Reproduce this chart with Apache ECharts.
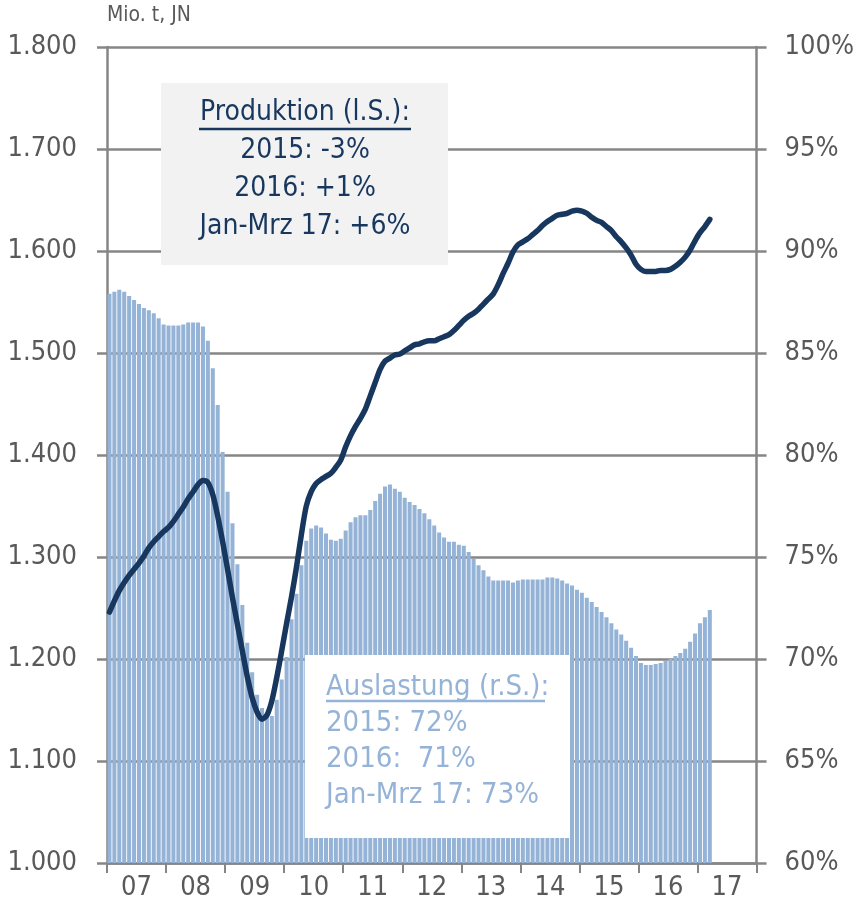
<!DOCTYPE html>
<html>
<head>
<meta charset="utf-8">
<script src="https://cdn.jsdelivr.net/npm/echarts@6/dist/echarts.min.js"></script>
<style>
  html, body { margin: 0; padding: 0; background: #fff; }
  #chart { width: 857px; height: 905px; }
</style>
</head>
<body>
<div id="chart"></div>
<script>
// monthly categories Jan 2007 .. Dec 2017 (data through Mar 2017)
const months = [];
for (let y = 2007; y <= 2017; y++) {
  for (let m = 1; m <= 12; m++) months.push(y + '-' + (m < 10 ? '0' + m : m));
}
const yearLabels = ['07', '08', '09', '10', '11', '12', '13', '14', '15', '16', '17'];

// Auslastung, % (right axis)
const auslastung = [
  87.9, 88.0, 88.1, 88.0, 87.8, 87.6, 87.4, 87.2, 87.1, 86.95, 86.7, 86.4,
  86.35, 86.35, 86.35, 86.4, 86.5, 86.5, 86.5, 86.3, 85.6, 84.25, 82.45, 80.15,
  78.2, 76.65, 74.65, 72.65, 70.8, 69.35, 68.25, 67.6, 67.15, 67.2, 68.0, 69.0,
  70.1, 71.95, 73.2, 74.6, 75.8, 76.4, 76.55, 76.45, 76.15, 75.85, 75.8, 75.9,
  76.3, 76.7, 76.95, 77.05, 77.05, 77.3, 77.75, 78.1, 78.45, 78.55, 78.35, 78.2,
  77.9, 77.7, 77.55, 77.35, 77.15, 76.85, 76.55, 76.2, 75.95, 75.75, 75.75, 75.6,
  75.55, 75.25, 74.9, 74.6, 74.35, 74.05, 73.85, 73.85, 73.85, 73.85, 73.75, 73.85,
  73.9, 73.9, 73.9, 73.9, 73.9, 74.0, 74.0, 73.95, 73.85, 73.7, 73.6, 73.4,
  73.25, 73.0, 72.8, 72.55, 72.3, 72.05, 71.75, 71.45, 71.2, 70.9, 70.55, 70.15,
  69.8, 69.7, 69.7, 69.75, 69.8, 69.9, 70.0, 70.15, 70.3, 70.5, 70.85, 71.25,
  71.75, 72.05, 72.4
];

// Produktion, Mio. t (left axis)
const produktion = [
  1246, 1257, 1267, 1275, 1282, 1288, 1294, 1301, 1309, 1315, 1320, 1325,
  1329, 1335, 1342, 1349, 1357, 1364, 1371, 1375, 1373, 1361, 1340, 1315,
  1288, 1260, 1234, 1208, 1183, 1162, 1148, 1141, 1145, 1159, 1182, 1208,
  1235, 1261, 1290, 1322, 1350, 1364, 1372, 1376, 1379, 1382, 1388, 1395,
  1408, 1419, 1428, 1436, 1445, 1458, 1471, 1484, 1492, 1495, 1498, 1499,
  1502, 1505, 1508, 1509, 1511, 1512, 1512, 1514, 1516, 1518, 1522, 1527,
  1532, 1536, 1539, 1543, 1548, 1553, 1558, 1567, 1578, 1588, 1599, 1606,
  1609, 1612, 1616, 1620, 1625, 1629, 1632, 1635, 1636, 1637, 1639, 1640,
  1639, 1637, 1633, 1630, 1628, 1624, 1620, 1614, 1609, 1603, 1596, 1587,
  1582, 1580, 1580, 1580, 1581, 1581, 1582, 1585, 1589, 1594, 1601, 1610,
  1618, 1624, 1631
];

const FONT = '"DejaVu Sans Condensed", "Liberation Sans Narrow", sans-serif';
const GREY = '#595959';
const LINEGREY = '#868686';
const NAVY = '#17375E';
const LIGHT = '#95B3D7';

const chart = echarts.init(document.getElementById('chart'), null, { renderer: 'canvas' });

chart.setOption({
  animation: false,
  grid: { left: 107, right: 100, top: 47, bottom: 42 },
  xAxis: [
    {
      type: 'category',
      data: months,
      boundaryGap: true,
      axisLine: { onZero: false, lineStyle: { color: LINEGREY, width: 2.5 } },
      axisTick: { show: false },
      axisLabel: { show: false }
    },
    {
      type: 'category',
      data: yearLabels,
      position: 'bottom',
      boundaryGap: true,
      axisLine: { show: false },
      axisTick: { show: true, length: 10, lineStyle: { color: LINEGREY, width: 2 } },
      axisLabel: { color: GREY, fontFamily: FONT, fontSize: 27, margin: 11 }
    }
  ],
  yAxis: [
    {
      type: 'value',
      min: 1000, max: 1800, interval: 100,
      axisLine: { show: true, lineStyle: { color: LINEGREY, width: 2.5 } },
      axisTick: { show: true, length: 10, lineStyle: { color: LINEGREY, width: 2.5 } },
      splitLine: { lineStyle: { color: LINEGREY, width: 2.5 } },
      axisLabel: {
        color: GREY, fontFamily: FONT, fontSize: 27, margin: 30,
        formatter: v => Math.floor(v / 1000) + '.' + String(v % 1000).padStart(3, '0')
      }
    },
    {
      type: 'value',
      min: 60, max: 100, interval: 5,
      position: 'right',
      axisLine: { show: true, lineStyle: { color: LINEGREY, width: 2.5 } },
      axisTick: { show: true, length: 10, lineStyle: { color: LINEGREY, width: 2.5 } },
      splitLine: { show: false },
      axisLabel: { color: GREY, fontFamily: FONT, fontSize: 27, margin: 28, formatter: '{value}%' }
    }
  ],
  series: [
    {
      name: 'Auslastung',
      type: 'bar',
      xAxisIndex: 0,
      yAxisIndex: 1,
      data: auslastung,
      barCategoryGap: '18%',
      itemStyle: { color: LIGHT },
      z: 2
    },
    {
      name: 'Produktion',
      type: 'line',
      xAxisIndex: 0,
      yAxisIndex: 0,
      data: produktion,
      showSymbol: false,
      smooth: 0.3,
      lineStyle: { color: NAVY, width: 5.5, cap: 'round', join: 'round' },
      z: 3
    }
  ],
  graphic: [
    {
      type: 'text', left: 107, top: 5, z: 100,
      style: { text: 'Mio. t, JN', fill: GREY, font: '21px ' + FONT }
    },
    {
      type: 'rect', shape: { x: 161, y: 83, width: 287, height: 182 }, z: 100,
      style: { fill: '#F2F2F2' }
    },
    {
      type: 'text', x: 305, y: 94, z: 101,
      style: {
        text: 'Produktion (l.S.):\n2015: -3%\n2016: +1%\nJan-Mrz 17: +6%',
        fill: NAVY, font: '28px ' + FONT, align: 'center', lineHeight: 38
      }
    },
    {
      type: 'line', shape: { x1: 199, y1: 129, x2: 411, y2: 129 }, z: 101,
      style: { stroke: NAVY, lineWidth: 2.5 }
    },
    {
      type: 'rect', shape: { x: 305, y: 655, width: 265, height: 183 }, z: 100,
      style: { fill: '#FFFFFF' }
    },
    {
      type: 'text', x: 326, y: 669, z: 101,
      style: {
        text: 'Auslastung (r.S.):\n2015: 72%\n2016:  71%\nJan-Mrz 17: 73%',
        fill: LIGHT, font: '29px ' + FONT, align: 'left', lineHeight: 36
      }
    },
    {
      type: 'line', shape: { x1: 326, y1: 701, x2: 545, y2: 701 }, z: 101,
      style: { stroke: LIGHT, lineWidth: 2.5 }
    }
  ]
});
</script>
</body>
</html>
